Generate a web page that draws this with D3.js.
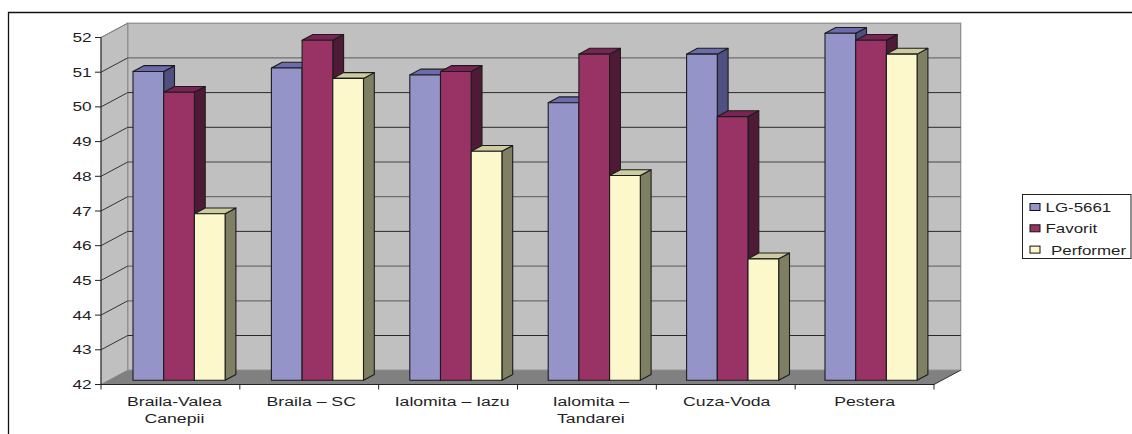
<!DOCTYPE html>
<html>
<head>
<meta charset="utf-8">
<script src="https://cdn.jsdelivr.net/npm/d3@7/dist/d3.min.js"></script>
<style>
html,body{margin:0;padding:0;background:#fff;overflow:hidden}
svg{display:block}
text{font-family:"Liberation Sans",Arial,sans-serif;font-size:13.3px;fill:#1f1f1f}
</style>
</head>
<body>
<svg id="chart" width="1132" height="434"></svg>
<script>
const categories = [["Braila-Valea","Canepii"],["Braila – SC"],["Ialomita – Iazu"],["Ialomita –","Tandarei"],["Cuza-Voda"],["Pestera"]];
const seriesNames = ["LG-5661","Favorit","Performer"];
const lg5661 = [50.9,51.0,50.8,50.0,51.4,52.0];
const favorit = [50.3,51.8,50.9,51.4,49.6,51.8];
const performer = [46.8,50.7,48.6,47.9,45.5,51.4];
const seriesValues = [lg5661,favorit,performer];
const yTicks = d3.range(42,53);
const softGridTicks = [51,48,47,45,44];

const frontFill = ["#9494c8","#993366","#fdf8cc"];
const topFill = ["#6b6bae","#7a2455","#cccca0"];
const sideFill = ["#4f4f82","#4f1a35","#7f8063"];

const svg = d3.select("#chart");
const width = 1132, height = 434;
const x0 = 101, x1 = 934, yBottom = 384.5, yTop = 37.5;
const depthX = 26.7, depthY = -14.3;  // floor depth of the 3D box
const barShiftY = -4.2;               // bars stand partway into the box
const barDX = 10.8, barDY = -5.8;     // bar depth
const barW = 30.7;

const x = d3.scaleBand().domain(d3.range(categories.length)).range([x0,x1]);
const xBars = d3.scalePoint().domain(d3.range(categories.length)).range([133,825]);
const y = d3.scaleLinear().domain([42,52]).range([yBottom,yTop]);
const labelShift = [4,2,4,4,1,0];

const poly = pts => pts.map(p=>p.join(",")).join(" ");

// chart frame: left and top edges stay inside the page
svg.append("path").attr("d",`M8.5,${height} V12.5 H${width}`).attr("fill","none").attr("stroke","#111").attr("stroke-width",1.3);

// walls and floor
const backX0 = x0+depthX, backX1 = x1+depthX;
svg.append("rect").attr("x",backX0).attr("y",yTop+depthY).attr("width",backX1-backX0).attr("height",yBottom-yTop)
  .attr("fill","#c0c0c0").attr("stroke","#8a8a8a").attr("stroke-width",1.2);
svg.append("polygon").attr("points",poly([[x0,yTop],[backX0,yTop+depthY],[backX0,yBottom+depthY],[x0,yBottom]]))
  .attr("fill","#c0c0c0").attr("stroke","#8a8a8a").attr("stroke-width",1);
svg.append("polygon").attr("points",poly([[x0,yBottom],[backX0,yBottom+depthY],[backX1,yBottom+depthY],[x1,yBottom]]))
  .attr("fill","#808080");

// gridlines along side wall and back wall
yTicks.filter(t=>t>42).forEach(t=>{
  const yy = y(t), soft = softGridTicks.includes(t);
  if(t<52) svg.append("line").attr("x1",backX0).attr("x2",backX1).attr("y1",yy+depthY).attr("y2",yy+depthY)
    .attr("stroke",soft?"#6e6e6e":"#2a2a2a").attr("stroke-width",soft?1.3:1);
  svg.append("line").attr("x1",x0).attr("x2",backX0).attr("y1",yy).attr("y2",yy+depthY).attr("stroke",t===52?"#808080":"#333").attr("stroke-width",1);
});
svg.append("line").attr("x1",x1).attr("x2",backX1).attr("y1",yBottom).attr("y2",yBottom+depthY).attr("stroke","#333");

// axes
svg.append("line").attr("x1",x0).attr("x2",x0).attr("y1",yTop).attr("y2",yBottom).attr("stroke","#222");
svg.append("line").attr("x1",x0).attr("x2",x1).attr("y1",yBottom).attr("y2",yBottom).attr("stroke","#222");
yTicks.forEach(t=>{
  svg.append("line").attr("x1",x0-6).attr("x2",x0).attr("y1",y(t)).attr("y2",y(t)).attr("stroke","#222");
  svg.append("text").attr("transform",`translate(91.7,${y(t)+4.5}) scale(1.3,1)`).attr("text-anchor","end").text(t);
});
d3.range(categories.length+1).forEach(i=>{
  const tx = x0 + i*x.step();
  svg.append("line").attr("x1",tx).attr("x2",tx).attr("y1",yBottom).attr("y2",yBottom+5).attr("stroke","#222");
});

// bars: side and top faces first, then the front, left to right
const barsY = v => y(v)+barShiftY;
categories.forEach((c,i)=>{
  seriesValues.forEach((vals,s)=>{
    const left = xBars(i)+s*barW, right = left+barW;
    const t = barsY(vals[i]), b = barsY(42);
    const g = svg.append("g").attr("stroke","#1c1c1c").attr("stroke-width",1.1).attr("stroke-linejoin","round");
    g.append("polygon").attr("fill",sideFill[s]).attr("points",poly([[right,t],[right+barDX,t+barDY],[right+barDX,b+barDY],[right,b]]));
    g.append("polygon").attr("fill",topFill[s]).attr("points",poly([[left,t],[left+barDX,t+barDY],[right+barDX,t+barDY],[right,t]]));
    g.append("rect").attr("fill",frontFill[s]).attr("x",left).attr("y",t).attr("width",barW).attr("height",b-t);
  });
});

// category labels
categories.forEach((lines,i)=>{
  lines.forEach((ln,k)=>{
    svg.append("text").attr("transform",`translate(${x(i)+x.bandwidth()/2+labelShift[i]},${406+k*16.8}) scale(1.33,1)`).attr("text-anchor","middle").text(ln);
  });
});

// legend
svg.append("rect").attr("x",1022.5).attr("y",194.5).attr("width",108.5).attr("height",64).attr("fill","#fff").attr("stroke","#222").attr("stroke-width",1);
seriesNames.forEach((n,s)=>{
  const yy = 207+s*21.3;
  svg.append("rect").attr("x",1030).attr("y",yy-3.5).attr("width",10).attr("height",7).attr("fill",frontFill[s]).attr("stroke","#111").attr("stroke-width",1);
  svg.append("text").attr("transform",`translate(${s===2?1051:1045.5},${yy+5}) scale(1.27,1)`).text(n);
});
</script>
</body>
</html>
